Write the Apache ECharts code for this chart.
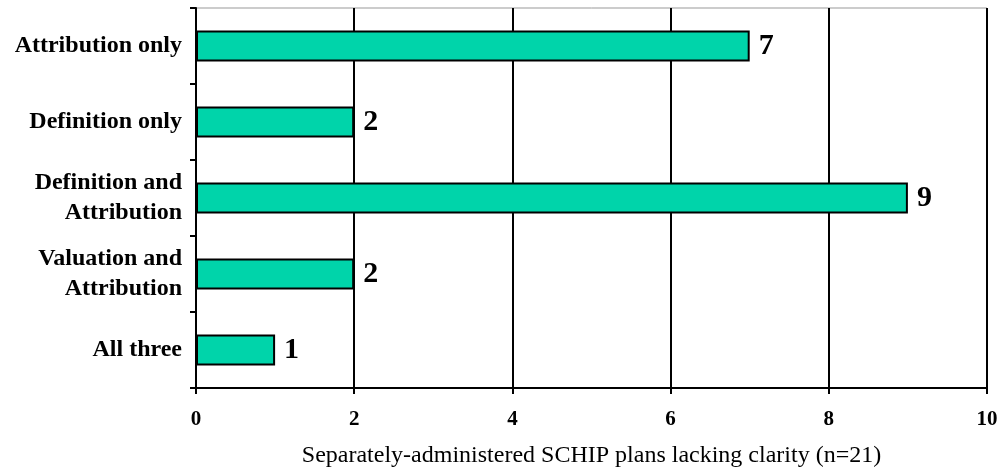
<!DOCTYPE html>
<html>
<head>
<meta charset="utf-8">
<script src="https://cdn.jsdelivr.net/npm/echarts@6/dist/echarts.min.js"></script>
<style>
  html, body { margin: 0; padding: 0; background: #fff; }
  #main { width: 1006px; height: 473px; }
</style>
</head>
<body>
<div id="main"></div>
<script>
var categories = ['Attribution only', 'Definition only', 'Definition and\nAttribution', 'Valuation and\nAttribution', 'All three'];
var planCounts = [7, 2, 9, 2, 1];
var xTicks = [0, 2, 4, 6, 8, 10];
var axisTitle = 'Separately-administered SCHIP plans lacking clarity (n=21)';

var chart = echarts.init(document.getElementById('main'));
var serif = '"Liberation Serif", "Times New Roman", serif';

chart.setOption({
    animation: false,
    grid: {
        left: 196, right: 19, top: 8, bottom: 82,
        show: true,
        borderColor: '#999',
        borderWidth: 1
    },
    xAxis: {
        type: 'value',
        min: xTicks[0],
        max: xTicks[xTicks.length - 1],
        interval: 2,
        name: axisTitle,
        nameLocation: 'middle',
        nameGap: 56,
        nameTextStyle: { fontFamily: serif, fontSize: 24, color: '#000' },
        axisLine: { show: true, lineStyle: { color: '#000', width: 2 } },
        axisTick: { show: true, length: 6, lineStyle: { color: '#000', width: 2 } },
        axisLabel: { fontFamily: serif, fontWeight: 'bold', fontSize: 21, color: '#000', margin: 21 },
        splitLine: { show: true, lineStyle: { color: '#000', width: 2 } }
    },
    yAxis: {
        type: 'category',
        inverse: true,
        data: categories,
        axisLine: { show: true, lineStyle: { color: '#000', width: 2 } },
        axisTick: { show: true, length: 6, lineStyle: { color: '#000', width: 2 } },
        axisLabel: {
            fontFamily: serif, fontWeight: 'bold', fontSize: 24, color: '#000',
            margin: 14, lineHeight: 30, align: 'right'
        },
        splitLine: { show: false }
    },
    series: [{
        type: 'bar',
        data: planCounts,
        barWidth: 31,
        itemStyle: { color: '#00D4AA', borderColor: '#000', borderWidth: 2 },
        label: {
            show: true,
            position: 'right',
            distance: 9,
            fontFamily: serif,
            fontWeight: 'bold',
            fontSize: 30,
            color: '#000'
        }
    }]
});
</script>
</body>
</html>
